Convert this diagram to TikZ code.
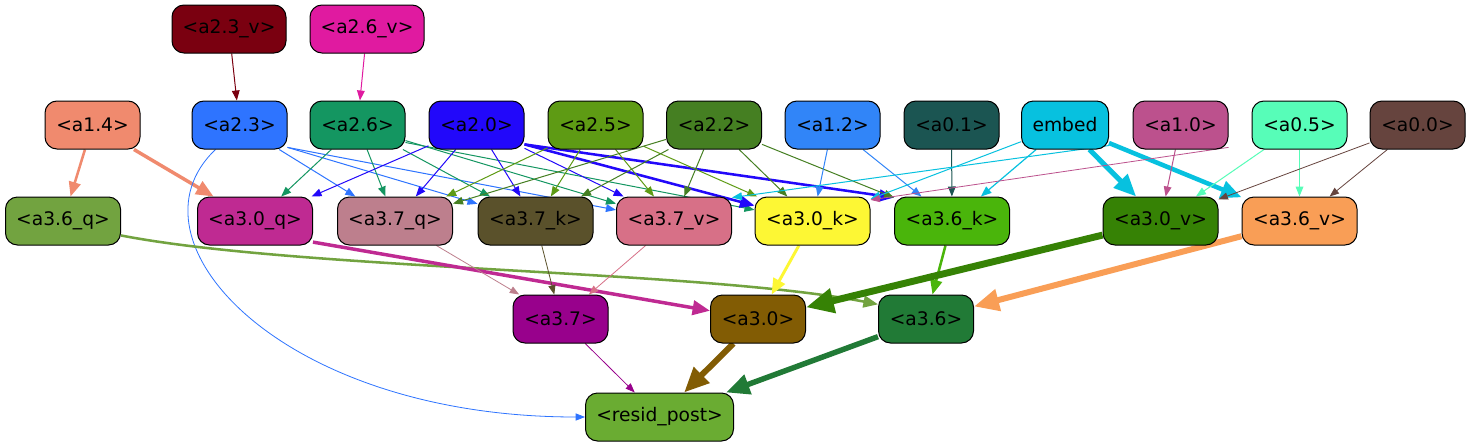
\documentclass[tikz,border=0pt]{standalone}
\usepackage{fontspec}
\setmainfont{DejaVu Sans}
\usetikzlibrary{arrows.meta,calc}
\pgfdeclarelayer{bg}
\pgfdeclarelayer{edges}
\pgfsetlayers{bg,edges,main}
\definecolor{c23v}{HTML}{7A0010}
\definecolor{c26v}{HTML}{E01AA0}
\definecolor{c14}{HTML}{F08A6E}
\definecolor{c23}{HTML}{2E74FF}
\definecolor{c26}{HTML}{149661}
\definecolor{c20}{HTML}{2208FA}
\definecolor{c25}{HTML}{5E9B14}
\definecolor{c22}{HTML}{457F22}
\definecolor{c12}{HTML}{3185F8}
\definecolor{c01}{HTML}{1B5552}
\definecolor{cemb}{HTML}{07C1DF}
\definecolor{c10}{HTML}{BC518D}
\definecolor{c05}{HTML}{57FDB8}
\definecolor{c00}{HTML}{66443E}
\definecolor{c36q}{HTML}{72A340}
\definecolor{c30q}{HTML}{BF2A92}
\definecolor{c37q}{HTML}{BD7F8D}
\definecolor{c37k}{HTML}{5A512B}
\definecolor{c37v}{HTML}{D77087}
\definecolor{c30k}{HTML}{FDF734}
\definecolor{c36k}{HTML}{4AB50B}
\definecolor{c30v}{HTML}{368205}
\definecolor{c36v}{HTML}{F99E56}
\definecolor{c37}{HTML}{98018C}
\definecolor{c30}{HTML}{825C04}
\definecolor{c36}{HTML}{217A36}
\definecolor{crp}{HTML}{6AAC32}
\begin{document}
\begin{tikzpicture}[x=0.75pt,y=-0.75pt,
  nd/.style={draw=black, line width=0.75pt, rounded corners=9pt, minimum height=36pt,
    inner sep=0pt, font=\fontsize{14pt}{16pt}\selectfont, text=black},
  wa/.style={minimum width=71.25pt},
  wb/.style={minimum width=86.25pt},
  wc/.style={minimum width=85.5pt},
  ed/.style={-{Triangle[length=5.25pt 3, width=3.75pt 2.7]}, line width=0.75pt},
  th/.style={line width=0.6pt}]
\begin{pgfonlayer}{bg}
\fill[white] (0,0) rectangle (1471,443);
\end{pgfonlayer}
\useasboundingbox (0,0) rectangle (1471,443);
% row 0
\node[nd,wc,fill=c23v] (a23v) at (229,29) {<a2.3\_v>};
\node[nd,wc,fill=c26v] (a26v) at (367,29) {<a2.6\_v>};
% row 1
\node[nd,wa,fill=c14] (a14) at (92.5,125) {<a1.4>};
\node[nd,wa,fill=c23] (a23) at (239.5,125) {<a2.3>};
\node[nd,wa,fill=c26] (a26) at (357.5,125) {<a2.6>};
\node[nd,wa,fill=c20] (a20) at (476.5,125) {<a2.0>};
\node[nd,wa,fill=c25] (a25) at (595.5,125) {<a2.5>};
\node[nd,wa,fill=c22] (a22) at (714,125) {<a2.2>};
\node[nd,wa,fill=c12] (a12) at (832.5,125) {<a1.2>};
\node[nd,wa,fill=c01] (a01) at (951.5,125) {<a0.1>};
\node[nd,minimum width=65.25pt,fill=cemb] (emb) at (1065,125) {embed};
\node[nd,wa,fill=c10] (a10) at (1180.5,125) {<a1.0>};
\node[nd,wa,fill=c05] (a05) at (1299.5,125) {<a0.5>};
\node[nd,wa,fill=c00] (a00) at (1417.5,125) {<a0.0>};
% row 2
\node[nd,wb,fill=c36q] (a36q) at (63,221) {<a3.6\_q>};
\node[nd,wb,fill=c30q] (a30q) at (255,221) {<a3.0\_q>};
\node[nd,wb,fill=c37q] (a37q) at (395,221) {<a3.7\_q>};
\node[nd,wb,fill=c37k] (a37k) at (535.5,221) {<a3.7\_k>};
\node[nd,wb,fill=c37v] (a37v) at (674,221) {<a3.7\_v>};
\node[nd,wb,fill=c30k] (a30k) at (812.5,221) {<a3.0\_k>};
\node[nd,wb,fill=c36k] (a36k) at (952,221) {<a3.6\_k>};
\node[nd,wb,fill=c30v] (a30v) at (1160.5,221) {<a3.0\_v>};
\node[nd,wb,fill=c36v] (a36v) at (1299.5,221) {<a3.6\_v>};
% row 3
\node[nd,wa,fill=c37] (a37) at (560.5,319) {<a3.7>};
\node[nd,wa,fill=c30] (a30) at (758,319) {<a3.0>};
\node[nd,wa,fill=c36] (a36) at (926,319) {<a3.6>};
% row 4
\node[nd,minimum width=111pt,fill=crp] (rp) at (659.5,417) {<resid\_post>};

\begin{pgfonlayer}{edges}
\draw[ed,c23v] (a23v) -- (a23);
\draw[ed,c26v] (a26v) -- (a26);
\draw[ed,c14,line width=1.9pt] (a14) -- (a36q);
\draw[ed,c14,line width=2.6pt] (a14) -- (a30q);
% a2.3
\draw[ed,c23,th] ($(a23.south)+(-24,0)$) .. controls (120,240) and (280,417) .. (rp.west);
\draw[ed,c23] (a23) -- (a37q);
\draw[ed,c23] (a23.-25) -- (a37k);
\draw[ed,c23] (a23.-25) -- (a37v);
% a2.6
\draw[ed,c26] (a26) -- (a30q);
\draw[ed,c26] (a26) -- (a37q);
\draw[ed,c26] (a26) -- (a37k);
\draw[ed,c26] (a26.-18) -- (a37v);
\draw[ed,c26] (a26.-20) -- (a30k);
% a2.0
\draw[ed,c20] (a20) -- (a30q);
\draw[ed,c20] (a20) -- (a37q);
\draw[ed,c20] (a20) -- (a37k);
\draw[ed,c20] (a20) -- (a37v);
\draw[ed,c20,line width=1.9pt] (a20.-22) -- (a30k);
\draw[ed,c20,line width=1.9pt] (a20.-22) -- (a36k.158);
% a2.5
\draw[ed,c25] (a25) -- (a37q);
\draw[ed,c25] (a25) -- (a37k);
\draw[ed,c25] (a25) -- (a37v);
\draw[ed,c25] (a25) -- (a30k);
% a2.2
\draw[ed,c22] (a22) -- (a37q);
\draw[ed,c22] (a22) -- (a37k);
\draw[ed,c22] (a22) -- (a37v);
\draw[ed,c22] (a22) -- (a30k);
\draw[ed,c22] (a22) -- (a36k);
% a1.2, a0.1
\draw[ed,c12] (a12) -- (a30k);
\draw[ed,c12] (a12) -- (a36k);
\draw[ed,c01] (a01) -- (a36k);
% embed
\draw[ed,cemb] (emb.-25) -- (a37v.22);
\draw[ed,cemb] (emb) -- (a30k);
\draw[ed,cemb,line width=0.9pt] (emb) -- (a36k);
\draw[ed,cemb,line width=3.8pt] (emb) -- (a30v);
\draw[ed,cemb,line width=3.4pt] (emb) -- (a36v);
% a1.0, a0.5, a0.0
\draw[ed,c10,th] (a10.-25) -- (a30k.20);
\draw[ed,c10] (a10) -- (a30v);
\draw[ed,c05] (a05) -- (a30v);
\draw[ed,c05] (a05) -- (a36v);
\draw[ed,c00,th] (a00) -- (a30v);
\draw[ed,c00,th] (a00) -- (a36v);
% row 2 -> row 3
\draw[ed,c36q,line width=1.9pt] (a36q.-14) .. controls (300,270) and (700,270) .. (a36.163);
\draw[ed,c30q,line width=2.6pt] (a30q.-20) -- (a30);
\draw[ed,c37q,th] (a37q) -- (a37);
\draw[ed,c37k,th] (a37k) -- (a37);
\draw[ed,c37v,th] (a37v) -- (a37);
\draw[ed,c30k,line width=2.2pt] (a30k) -- (a30);
\draw[ed,c36k,line width=1.9pt] (a36k) -- (a36);
\draw[ed,c30v,line width=5.2pt] (a30v) -- (a30);
\draw[ed,c36v,line width=4.5pt] (a36v) -- (a36);
% row 3 -> resid_post
\draw[ed,c37,th] (a37) -- (rp);
\draw[ed,c30,line width=4.5pt] (a30) -- (rp);
\draw[ed,c36,line width=4.1pt] (a36) -- (rp);
\end{pgfonlayer}
\end{tikzpicture}
\end{document}
